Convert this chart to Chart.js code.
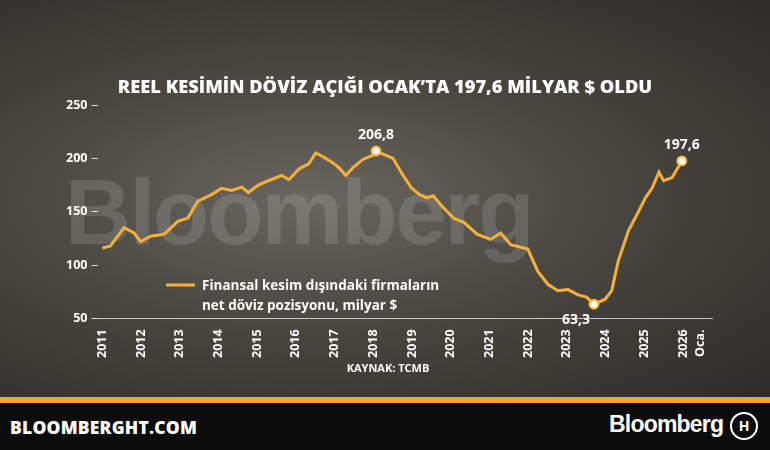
<!DOCTYPE html>
<html><head><meta charset="utf-8">
<script src="https://cdn.jsdelivr.net/npm/chart.js@4/dist/chart.umd.min.js"></script>
<style>
html,body{margin:0;padding:0;width:770px;height:450px;overflow:hidden;font-family:"Open Sans",sans-serif}
#bg{position:absolute;left:0;top:0;width:770px;height:397px;background:radial-gradient(ellipse at 40% 50%,#6a665f 0%,#4a4741 45%,#2e2c29 100%)}
#wm{position:absolute;left:65px;top:160px;font-size:92px;font-weight:700;color:rgba(255,255,255,0.13);letter-spacing:-2px;font-family:"Liberation Sans",sans-serif}
#cw{position:absolute;left:0;top:0;width:770px;height:397px}
#stripe{position:absolute;left:0;top:397px;width:770px;height:6px;background:#f5a623}
#foot{position:absolute;left:0;top:403px;width:770px;height:47px;background:#0b0b0b;color:#fff}
#l{position:absolute;left:10px;top:12px;font-size:17.5px;font-weight:800;letter-spacing:0.2px}
#r{position:absolute;left:609px;top:8px;font-size:23px;font-weight:600;font-family:"Liberation Sans",sans-serif;letter-spacing:-0.8px}
#logo{position:absolute;left:730px;top:9px;width:28px;height:28px;border-radius:50%;border:2px solid #fff;box-sizing:border-box;text-align:center;font-size:14px;line-height:24px;font-weight:700}
</style></head><body>
<div id="bg"></div><div id="wm">Bloomberg</div>
<div id="cw"><canvas id="c" width="770" height="397"></canvas></div>
<div id="stripe"></div>
<div id="foot"><div id="l">BLOOMBERGHT.COM</div><div id="r">Bloomberg</div><div id="logo">H</div></div>
<script>
const years=[2011.0,2011.21,2011.56,2011.82,2011.99,2012.25,2012.6,2012.95,2013.21,2013.47,2013.82,2014.08,2014.34,2014.6,2014.77,2015.03,2015.29,2015.64,2015.82,2016.08,2016.34,2016.51,2016.68,2016.95,2017.12,2017.29,2017.47,2017.73,2017.99,2018.07,2018.51,2018.77,2018.99,2019.2,2019.38,2019.55,2019.73,2020.07,2020.34,2020.68,2021.03,2021.29,2021.55,2021.99,2022.25,2022.51,2022.77,2023.03,2023.29,2023.51,2023.7,2023.99,2024.16,2024.33,2024.59,2024.85,2025.03,2025.2,2025.38,2025.5,2025.72,2025.97];
const values=[116,118,135,130,122,127,129,141,144,160,166,172,170,173,168,175,179,184,180,190,195,205,202,196,191,184,191,199,203,206.8,200,184,172,166,163,165,157,144,140,129,124,130,119,115,94,82,76,77,72,70,63.3,68,76,104,132,150,163,172,187,179,182,197.6];
const yTicks=[50,100,150,200,250];
const xTickLabels=["2011","2012","2013","2014","2015","2016","2017","2018","2019","2020","2021","2022","2023","2024","2025","2026","Oca."];
const xTickPos=[2011,2012,2013,2014,2015,2016,2017,2018,2019,2020,2021,2022,2023,2024,2025,2026,2026.45];
const highlights=[29,50,61];
const hlLabels=["206,8","63,3","197,6"];
const ORANGE='#f7b03c';
const overlay={id:'ov',afterDatasetsDraw(ch){
 const c=ch.ctx,x=ch.scales.x,y=ch.scales.y;
 c.save();c.fillStyle='#fff';c.textAlign='center';
 c.font='800 18.3px "Open Sans"';c.fillText("REEL KESİMİN DÖVİZ AÇIĞI OCAK’TA 197,6 MİLYAR $ OLDU",385,93);
 c.font='700 14px "Open Sans"';
 const offs=[[0,-12],[-18,20],[0,-12]];
 highlights.forEach((i,k)=>{c.fillText(hlLabels[k],x.getPixelForValue(years[i])+offs[k][0],y.getPixelForValue(values[i])+offs[k][1]);});
 c.textAlign='left';c.font='700 13.5px "Open Sans"';
 c.fillText("Finansal kesim dışındaki firmaların",202,290);
 c.fillText("net döviz pozisyonu, milyar $",202,310);
 c.strokeStyle=ORANGE;c.lineWidth=3;c.beginPath();c.moveTo(166,285);c.lineTo(195,285);c.stroke();
 c.font='700 11px "Open Sans"';c.textAlign='center';c.fillText("KAYNAK: TCMB",388,372);
 c.restore();}};
new Chart(document.getElementById('c'),{type:'line',
 data:{datasets:[{data:years.map((v,i)=>({x:v,y:values[i]})),borderColor:ORANGE,borderWidth:3,tension:0,
  pointRadius:ctx=>highlights.includes(ctx.dataIndex)?4.5:0,pointBackgroundColor:'#fff',pointBorderColor:ORANGE,pointBorderWidth:2}]},
 options:{responsive:false,animation:false,layout:{padding:{left:62,right:58,top:105,bottom:36}},
  plugins:{legend:{display:false},tooltip:{enabled:false}},
  scales:{x:{type:'linear',min:2010.9,max:2026.75,
    afterBuildTicks:a=>{a.ticks=xTickPos.map(v=>({value:v}));},
    ticks:{autoSkip:false,minRotation:90,maxRotation:90,color:'#fff',font:{family:'Open Sans',weight:'700',size:12.5},callback:(v,i)=>xTickLabels[i]},
    grid:{display:false},border:{color:'rgba(255,255,255,0.7)',width:1}},
   y:{min:50,max:250,afterBuildTicks:a=>{a.ticks=yTicks.map(v=>({value:v}));},
    ticks:{color:'#fff',font:{family:'Open Sans',weight:'700',size:12.5},padding:4},
    grid:{drawOnChartArea:false,tickLength:7,color:'rgba(255,255,255,0.8)'},border:{display:false}}}},
 plugins:[overlay]});
</script></body></html>
